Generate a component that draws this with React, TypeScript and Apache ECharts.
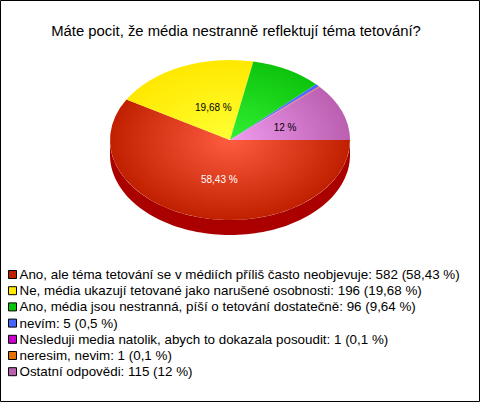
import React, { useEffect, useRef } from "react";
import * as echarts from "echarts";

const titleText = "Máte pocit, že média nestranně reflektují téma tetování?";
const categories = [
  "Ano, ale téma tetování se v médiích příliš často neobjevuje",
  "Ne, média ukazují tetované jako narušené osobnosti",
  "Ano, média jsou nestranná, píší o tetování dostatečně",
  "nevím",
  "Nesleduji media natolik, abych to dokazala posoudit",
  "neresim, nevim",
  "Ostatní odpovědi",
];
const values = [582, 196, 96, 5, 1, 1, 115];
const percents = ["58,43", "19,68", "9,64", "0,5", "0,1", "0,1", "12"];
const legendColors = ["#c02000", "#ffe800", "#0cc40c", "#4466ff", "#cc00cc", "#e07000", "#bb5fb0"];
const centerColors = ["#ff5c40", "#ffff33", "#33f033", "#6688ff", "#ee33ee", "#ff9933", "#f09cf0"];
const sideColors = ["#aa0000", "#b0a000", "#008000", "#2244aa", "#880088", "#a04000", "#804080"];
const sliceLabels = ["58,43 %", "19,68 %", "", "", "", "", "12 %"];
const labelColors = ["#ffffff", "#000000", "#000000", "#000000", "#000000", "#000000", "#000000"];
const labelNudgeX = [5, 8, 0, 0, 0, 0, -1];
const labelNudgeY = [1, 4, 0, 0, 0, 0, 2];

const CX = 230;
const CY = 140;
const RX = 120;
const RY = 80;
const DEPTH = 15;
const FONT = '"Liberation Sans", Arial, sans-serif';

const total = values.reduce((a, b) => a + b, 0);
const startShares = values.map((_, i) => values.slice(0, i).reduce((a, b) => a + b, 0) / total);

function sidePoints(a0: number, a1: number) {
  const from = Math.max(a0, 0);
  const to = Math.min(a1, Math.PI);
  if (to <= from) return null;
  const steps = 90;
  const top: number[][] = [];
  const bottom: number[][] = [];
  for (let k = 0; k <= steps; k++) {
    const a = from + ((to - from) * k) / steps;
    top.push([CX + RX * Math.cos(a), CY + RY * Math.sin(a)]);
    bottom.unshift([CX + RX * Math.cos(a), CY + DEPTH + RY * Math.sin(a)]);
  }
  return top.concat(bottom);
}

function makeSeries(i: number) {
  return {
    type: "custom",
    name: `${categories[i]}: ${values[i]} (${percents[i]} %)`,
    coordinateSystem: "none",
    itemStyle: { color: legendColors[i] },
    data: [[values[i]]],
    z: 2,
    renderItem: (_p: unknown, api: any) => {
      const share = api.value(0) / total;
      const a0 = startShares[i] * Math.PI * 2;
      const a1 = a0 + share * Math.PI * 2;
      const mid = (a0 + a1) / 2;
      const children: any[] = [];
      const pts = sidePoints(a0, a1);
      if (pts) {
        children.push({ type: "polygon", shape: { points: pts }, style: { fill: sideColors[i] } });
      }
      children.push({
        type: "sector",
        x: CX,
        y: CY,
        scaleY: RY / RX,
        shape: { cx: 0, cy: 0, r0: 0, r: RX, startAngle: a0, endAngle: a1, clockwise: true },
        style: {
          fill: new echarts.graphic.RadialGradient(0, 0, RX, [
            { offset: 0, color: centerColors[i] },
            { offset: 1, color: legendColors[i] },
          ], true),
        },
      });
      if (sliceLabels[i]) {
        children.push({
          type: "text",
          x: CX + 0.5 * RX * Math.cos(mid) + labelNudgeX[i],
          y: CY + 0.5 * RY * Math.sin(mid) + labelNudgeY[i],
          z2: 10,
          style: {
            text: sliceLabels[i],
            fill: labelColors[i],
            font: `10px ${FONT}`,
            align: "center",
            verticalAlign: "middle",
          },
        });
      }
      return { type: "group", children };
    },
  };
}

export default function App() {
  const ref = useRef<HTMLDivElement>(null);
  useEffect(() => {
    document.body.style.margin = "0";
    const chart = echarts.init(ref.current!, null, { renderer: "svg" });
    chart.setOption({
      animation: false,
      backgroundColor: "#ffffff",
      title: {
        text: titleText,
        left: 231,
        top: 18,
        textAlign: "center",
        textStyle: { fontFamily: FONT, fontSize: 14.85, fontWeight: "normal", color: "#000000" },
      },
      legend: {
        orient: "vertical",
        left: 8,
        top: 268,
        padding: 0,
        itemWidth: 8,
        itemHeight: 8,
        itemGap: 3.2,
        icon: "rect",
        selectedMode: false,
        itemStyle: { borderColor: "#000000", borderWidth: 1 },
        textStyle: { fontFamily: FONT, fontSize: 13.38, color: "#000000", padding: [0, 0, 0, -2], lineHeight: 13 },
        data: categories.map((c, i) => `${c}: ${values[i]} (${percents[i]} %)`),
      },
      graphic: [
        {
          type: "rect",
          silent: true,
          shape: { x: 0.5, y: 0.5, width: 479, height: 401 },
          style: { fill: "none", stroke: "#000000", lineWidth: 1 },
        },
      ],
      series: values.map((_, i) => makeSeries(i)),
    });
    return () => chart.dispose();
  }, []);
  return <div ref={ref} style={{ width: 480, height: 402 }} />;
}
